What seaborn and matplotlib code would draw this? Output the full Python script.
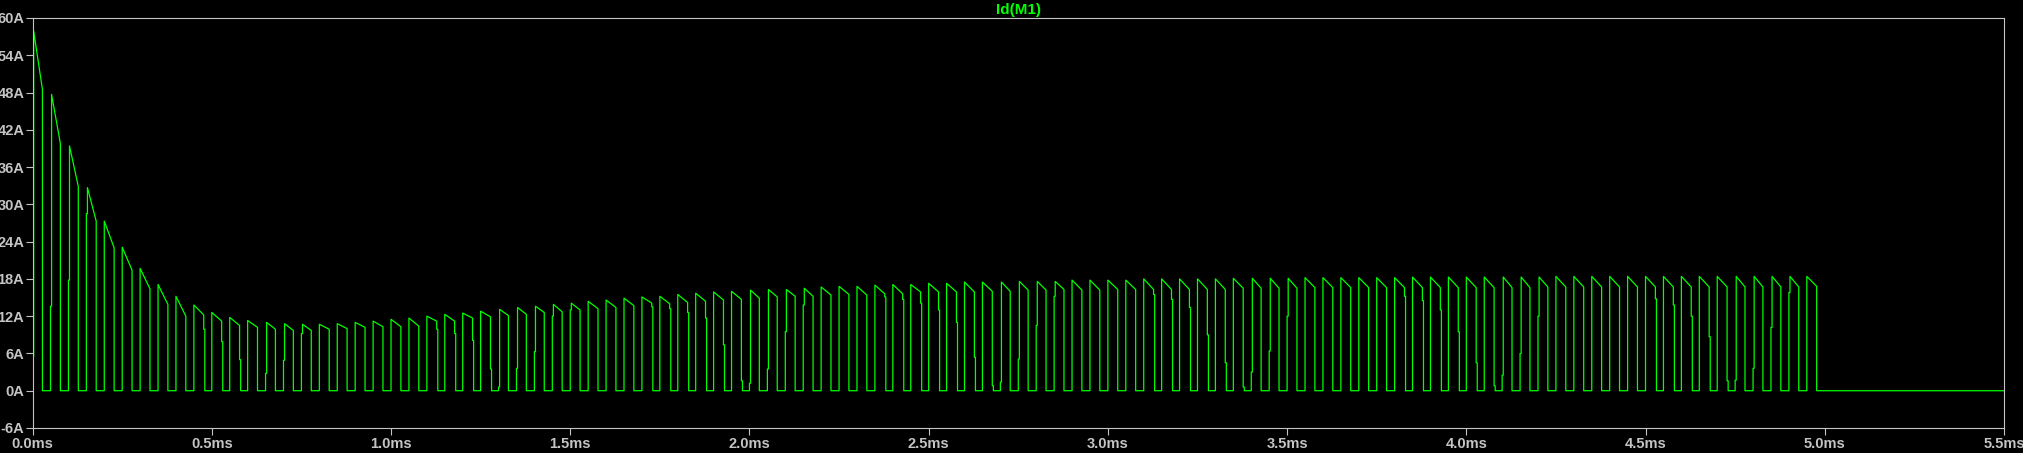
import seaborn as sns
import matplotlib.pyplot as plt
import numpy as np
import pandas as pd

# switching waveform (times in ms, current in A)
period = 0.05
t_on = 0.0275
t_edge = 0.003
t_end = 5.5

# value right after turn-on, one per pulse
peaks = [57.9, 47.7, 39.4, 32.7, 27.3, 23.1, 19.7, 17.1, 15.2, 13.8,
         12.6, 11.8, 11.3, 11.0, 10.8, 10.7, 10.7, 10.8, 11.0, 11.2,
         11.5, 11.7, 12.0, 12.3, 12.5, 12.8, 13.1, 13.4, 13.6, 13.9,
         14.1, 14.4, 14.6, 14.9, 15.1, 15.2, 15.5, 15.7, 15.9, 16.0,
         16.2, 16.3, 16.3, 16.5, 16.7, 16.8, 16.8, 17.0, 17.1, 17.1,
         17.3, 17.3, 17.5, 17.5, 17.5, 17.6, 17.6, 17.6, 17.8, 17.8,
         17.8, 17.8, 18.0, 18.0, 18.0, 18.0, 18.0, 18.1, 18.1, 18.1,
         18.1, 18.2, 18.2, 18.2, 18.2, 18.2, 18.2, 18.3, 18.3, 18.3,
         18.3, 18.3, 18.3, 18.3, 18.3, 18.4, 18.4, 18.4, 18.4, 18.4,
         18.4, 18.4, 18.4, 18.4, 18.4, 18.4, 18.4, 18.4, 18.4, 18.4]

# value just before turn-off
ends = [48.5, 39.8, 32.9, 27.3, 23.0, 19.4, 16.4, 13.9, 12.0, 12.2,
        11.2, 10.5, 10.2, 9.9, 9.7, 9.7, 9.9, 10.0, 10.2, 10.3,
        10.3, 10.4, 11.2, 11.2, 11.7, 11.9, 12.1, 12.3, 12.6, 12.7,
        13.0, 13.2, 13.4, 13.7, 14.1, 14.0, 14.2, 14.4, 14.6, 14.7,
        14.9, 15.1, 15.2, 15.2, 15.4, 15.5, 15.4, 15.6, 15.6, 15.9,
        15.9, 15.9, 15.9, 16.0, 16.0, 16.2, 16.2, 16.3, 16.2, 16.2,
        16.3, 16.3, 16.3, 16.3, 16.3, 16.3, 16.3, 16.5, 16.5, 16.5,
        16.5, 16.6, 16.6, 16.6, 16.6, 16.6, 16.6, 16.6, 16.6, 16.6,
        16.6, 16.6, 16.6, 16.6, 16.7, 16.7, 16.7, 16.7, 16.7, 16.7,
        16.7, 16.7, 16.7, 16.7, 16.7, 16.7, 16.7, 16.7, 16.7, 16.8]

# partial steps on the edges (pulse index -> level)
rise_steps = {0: 5.5, 1: 13.6, 2: 17.8, 3: 28.5, 13: 2.8, 14: 4.9, 15: 9.2,
              26: 0.6, 27: 3.6, 28: 6.3, 29: 12.0, 30: 13.0,
              40: 1.2, 41: 3.5, 42: 9.5, 43: 13.8,
              54: 1.4, 55: 5.1, 56: 10.5, 57: 15.2,
              68: 3.0, 69: 6.4, 70: 12.0,
              82: 2.5, 83: 6.0, 84: 12.0,
              95: 1.7, 96: 3.6, 97: 10.2, 98: 15.8}
fall_steps = {9: 9.9, 10: 7.9, 11: 5.0, 22: 9.9, 23: 9.2, 24: 8.1, 25: 3.5,
              34: 13.5, 35: 13.2, 36: 12.6, 37: 11.7, 38: 7.4, 39: 1.6,
              47: 15.1, 48: 14.7, 49: 14.1, 50: 13.0, 51: 11.0, 52: 5.4, 53: 0.8,
              62: 15.5, 63: 14.7, 64: 13.4, 65: 9.0, 66: 4.5, 67: 0.6,
              76: 15.2, 77: 14.5, 78: 13.0, 79: 9.5, 80: 4.5, 81: 0.8,
              90: 14.8, 91: 13.8, 92: 12.0, 93: 8.7, 94: 1.6}

y_ticks = np.arange(-6, 61, 6)
x_ticks = np.arange(0, 5.51, 0.5)

t, i = [], []
for k, (pk, en) in enumerate(zip(peaks, ends)):
    t0 = k * period
    t1 = t0 + t_on
    t.append(t0); i.append(0.0)
    if k in rise_steps:
        t += [t0, t0 + t_edge]; i += [rise_steps[k], rise_steps[k]]
        t.append(t0 + t_edge)
    else:
        t.append(t0)
    i.append(pk)
    t.append(t1); i.append(en)
    if k in fall_steps:
        t += [t1, t1 + t_edge, t1 + t_edge]; i += [fall_steps[k], fall_steps[k], 0.0]
    else:
        t.append(t1); i.append(0.0)
t.append(t_end); i.append(0.0)
df = pd.DataFrame({"time": t, "Id": i})

sns.set_theme(style="ticks", rc={
    "figure.facecolor": "black", "axes.facecolor": "black",
    "axes.edgecolor": "#c4c4c4", "axes.linewidth": 0.8,
    "xtick.color": "#c4c4c4", "ytick.color": "#c4c4c4",
    "xtick.major.width": 0.8, "ytick.major.width": 0.8,
    "xtick.major.size": 5, "ytick.major.size": 5,
})
plt.rcParams["font.family"] = ["Liberation Sans", "DejaVu Sans"]

fig = plt.figure(figsize=(20.24, 4.53), dpi=100)
ax = fig.add_axes([0.0161, 0.0552, 0.974, 0.9051])
sns.lineplot(data=df, x="time", y="Id", estimator=None, sort=False,
             color="#00ff00", linewidth=0.9, ax=ax)

ax.set_xlim(0, 5.5)
ax.set_ylim(-6, 60)
ax.set_xticks(x_ticks)
ax.set_xticklabels([f"{v:.1f}ms" for v in x_ticks], fontsize=10.5, fontweight="bold")
ax.set_yticks(y_ticks)
ax.set_yticklabels([f"{v}A" for v in y_ticks], fontsize=10.5, fontweight="bold")
ax.tick_params(axis="y", pad=1)
ax.tick_params(axis="x", pad=1.5)
ax.set_xlabel("")
ax.set_ylabel("")
ax.set_title("Id(M1)", color="#00ff00", fontsize=11, fontweight="bold", pad=3)
for s in ax.spines.values():
    s.set_visible(True)

fig.savefig("out.png", dpi=100, facecolor="black")
